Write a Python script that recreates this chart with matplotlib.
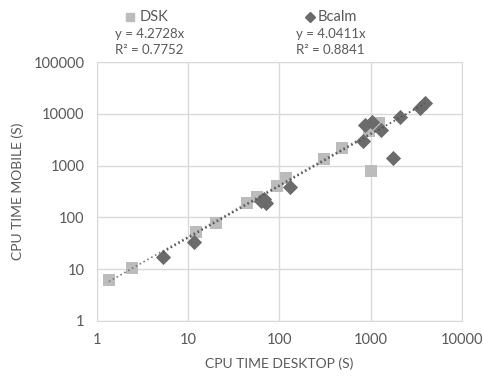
import matplotlib
matplotlib.use("Agg")
import numpy as np
import matplotlib.pyplot as plt
from matplotlib.lines import Line2D

plt.rcParams['font.family'] = ['Lato', 'DejaVu Sans']

# CPU time desktop (s) vs mobile (s)
dsk_desktop = [1.35, 2.4, 12.2, 20.3, 44.5, 56, 95, 119, 305, 480, 950, 1224, 1000]
dsk_mobile = [6.2, 10.5, 52, 78, 190, 248, 404, 576, 1340, 2190, 4600, 6640, 787]

bcalm_desktop = [5.3, 11.6, 63, 68, 72, 132, 817, 860, 1025, 1280, 2080, 1745, 3450, 3920]
bcalm_mobile = [17.2, 33.5, 210, 225, 190, 386, 2985, 6080, 6930, 4900, 8670, 1400, 12900, 16100]

dsk_slope, dsk_r2 = 4.2728, 0.7752
bcalm_slope, bcalm_r2 = 4.0411, 0.8841

grey_text = '#595959'
dsk_col = '#bcbcbc'
bcalm_col = '#6b6b6b'

fig = plt.figure(figsize=(4.83, 3.76), dpi=100)
ax = fig.add_axes([0.2008, 0.1463, 0.7557, 0.6887])

ax.scatter(dsk_desktop, dsk_mobile, marker='s', s=70, color=dsk_col, zorder=3, linewidths=0)
ax.scatter(bcalm_desktop, bcalm_mobile, marker='D', s=60, color=bcalm_col, zorder=3, linewidths=0)

# trendlines through origin
xd = np.array([min(dsk_desktop), max(dsk_desktop)])
ax.plot(xd, dsk_slope * xd, ls=':', color='#7a7a7a', lw=1.2, zorder=4)
xb = np.array([min(bcalm_desktop), max(bcalm_desktop)])
ax.plot(xb, bcalm_slope * xb, ls=':', color='#505050', lw=1.2, zorder=4)

ax.set_xscale('log')
ax.set_yscale('log')
ax.set_xlim(1, 10000)
ax.set_ylim(1, 100000)
ax.set_xticks([1, 10, 100, 1000, 10000])
ax.set_xticklabels(['1', '10', '100', '1000', '10000'])
ax.set_yticks([1, 10, 100, 1000, 10000, 100000])
ax.set_yticklabels(['1', '10', '100', '1000', '10000', '100000'])
ax.minorticks_off()
ax.grid(True, color='#d9d9d9', lw=1)
ax.set_axisbelow(True)
for s in ax.spines.values():
    s.set_color('#d9d9d9')
ax.tick_params(length=0, labelsize=10.5, colors=grey_text, pad=9)
ax.set_xlabel('CPU TIME DESKTOP (S)', fontsize=10, color=grey_text, labelpad=7)
ax.set_ylabel('CPU TIME MOBILE (S)', fontsize=10, color=grey_text, labelpad=7)

# legend with trendline equations
fig.add_artist(Line2D([130 / 483], [1 - 17 / 376], marker='s', ms=6, color=dsk_col, ls='none'))
fig.text(140 / 483, 1 - 17 / 376, 'DSK', fontsize=10.5, color=grey_text, va='center')
fig.text(150 / 483, 1 - 34 / 376, f'y = {dsk_slope}x', fontsize=9.5, color=grey_text, ha='center', va='center')
fig.text(149 / 483, 1 - 50 / 376, f'R² = {dsk_r2}', fontsize=9.5, color=grey_text, ha='center', va='center')

fig.add_artist(Line2D([310 / 483], [1 - 17 / 376], marker='D', ms=5, color=bcalm_col, ls='none'))
fig.text(318 / 483, 1 - 17 / 376, 'Bcalm', fontsize=10.5, color=grey_text, va='center')
fig.text(331 / 483, 1 - 34 / 376, f'y = {bcalm_slope}x', fontsize=9.5, color=grey_text, ha='center', va='center')
fig.text(330 / 483, 1 - 50 / 376, f'R² = {bcalm_r2}', fontsize=9.5, color=grey_text, ha='center', va='center')

fig.savefig('out.png', dpi=100)
